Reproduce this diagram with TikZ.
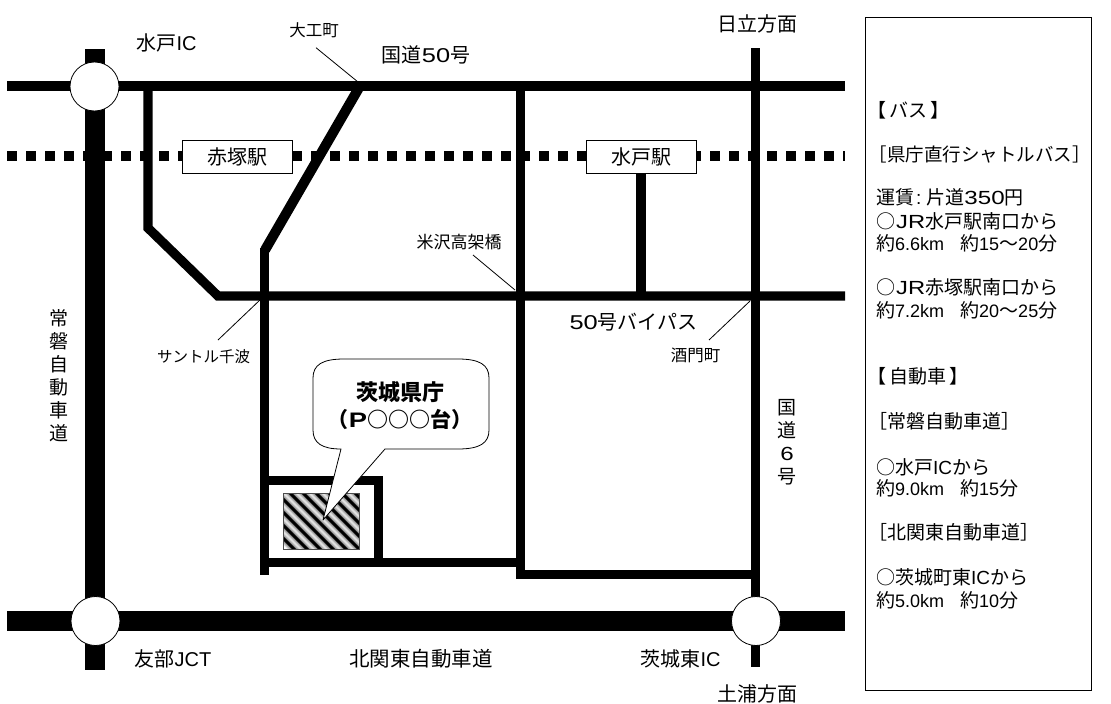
\documentclass[tikz,border=0pt]{standalone}
\usepackage{fontspec}
\setmainfont{Noto Sans CJK JP}
\newfontfamily\latinf{Liberation Sans}
\newcommand{\fs}[1]{\fontsize{#1}{#1}\selectfont}
\newcommand{\wdg}[1]{\scalebox{1.27}[1]{\latinf #1}}
\newcommand{\lt}[1]{{\latinf\fontsize{18}{18}\selectfont #1}}
\tikzset{
  x=1pt,y=-1pt,
  thinroad/.style={line width=9.3pt,line cap=butt,line join=miter},
  wideroad/.style={line width=19.5pt,line cap=butt},
  junction/.style={circle,draw,fill=white,line width=0.8pt,minimum size=49pt,inner sep=0pt},
  station/.style={draw,fill=white,line width=0.8pt,minimum width=110pt,minimum height=33pt,inner sep=0pt,font=\fs{20}},
  lead/.style={line width=0.8pt},
  lab/.style={inner sep=0pt,font=\fs{20}},
  small/.style={inner sep=0pt,font=\fs{16.5}},
  vert/.style={inner sep=0pt,align=center,font=\fontsize{19}{23}\selectfont},
  info/.style={inner sep=0pt,anchor=west,font=\fs{19}},
}
\begin{document}
\begin{tikzpicture}
\useasboundingbox (0,0) rectangle (1111,704);
% rail
\draw[line width=9.5pt,dash pattern=on 9.5pt off 9.5pt] (7.3,156) -- (845,156);
% roads
\draw[wideroad] (95,49) -- (95,670);
\draw[wideroad] (7,621) -- (845,621);
\draw[thinroad] (7,86) -- (845,86);
\draw[thinroad] (755.5,48) -- (755.5,667);
\draw[thinroad] (148,86) -- (148,228) -- (218,296) -- (845,296);
\draw[thinroad,line width=10pt] (360,86) -- (265,250);
\draw[thinroad] (264.5,248) -- (264.5,575);
\draw[thinroad] (520.3,86) -- (520.3,579);
\draw[thinroad] (516,574.5) -- (755.5,574.5);
\draw[thinroad] (264.5,562.5) -- (520.3,562.5);
\draw[thinroad] (264.5,480.5) -- (378.3,480.5) -- (378.3,562.5);
\draw[thinroad] (641,156) -- (641,296);
% junctions
\node[junction] (ic1) at (94.5,86.5) {};
\node[junction] (ic2) at (95.5,621) {};
\node[junction] (ic3) at (756,621) {};
% stations
\node[station] (s1) at (237.5,156.5) {赤塚駅};
\node[station] (s2) at (641,156.5) {水戸駅};
% hatched site
\begin{scope}
\clip (283,493) rectangle (359,549);
\fill[white] (283,493) rectangle (359,549);
\foreach \k in {-65,-52,...,80}{
  \draw[gray!25,line width=9pt] (283+\k,473) -- (283+\k+90,563);
}
\foreach \k in {-65,-52,...,80}{
  \draw[gray!55,line width=7pt] (283+\k,473) -- (283+\k+90,563);
  \draw[gray!80,line width=5pt] (283+\k,473) -- (283+\k+90,563);
  \draw[black,line width=3pt] (283+\k,473) -- (283+\k+90,563);
}
\end{scope}
\draw[black!70,line width=0.8pt] (283,493) rectangle (359,549);
% callout
\coordinate (tip) at (323,520);
\draw[fill=white,line width=0.8pt,line join=round]
  (341,449) -- (tip) -- (385,449) -- (458,449)
  .. controls (480,449) and (489,443) .. (489,430)
  -- (489,378) .. controls (489,365) and (480,359) .. (458,359)
  -- (344,359) .. controls (322,359) and (313,365) .. (313,378)
  -- (313,430) .. controls (313,443) and (322,449) .. (341,449) -- cycle;
\node[inner sep=0pt,font=\fs{22}\bfseries] (t1) at (400.5,392) {茨城県庁};
\node[inner sep=0pt,font=\fs{21}\bfseries] (t2) at (400,419) {（\scalebox{1.3}[1]{\latinf\bfseries P}○○○台）};
% leaders and labels
\node[small] (daiku) at (314,30) {大工町};
\coordinate (daikuA) at (316,47.7);
\coordinate (daikuB) at (358,82);
\draw[lead] (daikuA) -- (daikuB);
\node[small,font=\fs{17}] (yone) at (459,242) {米沢高架橋};
\coordinate (yoneA) at (473,255);
\coordinate (yoneB) at (515,290);
\draw[lead] (yoneA) -- (yoneB);
\node[small,font=\fs{15.5}] (sant) at (203.5,357) {サントル千波};
\coordinate (santA) at (218,340);
\coordinate (santB) at (261,299);
\draw[lead] (santA) -- (santB);
\node[small] (saka) at (695.5,355) {酒門町};
\coordinate (sakaA) at (709,340);
\coordinate (sakaB) at (750,301);
\draw[lead] (sakaA) -- (sakaB);
\node[lab] (l1) at (166.5,43) {水戸{\latinf IC}};
\node[lab] (l2) at (426,55) {国道\wdg{50}号};
\node[lab] (l3) at (757,23.5) {日立方面};
\node[lab] (l4) at (633.5,322) {\wdg{50}号バイパス};
\node[lab] (l5) at (173,659) {友部{\latinf JCT}};
\node[lab,font=\fs{20.5}] (l6) at (421,659) {北関東自動車道};
\node[lab] (l7) at (680.5,659) {茨城東{\latinf IC}};
\node[lab] (l8) at (757,693.5) {土浦方面};
\node[vert] (l9) at (59,375.5) {常\\磐\\自\\動\\車\\道};
\node[vert] (l10) at (787,442.5) {国\\道\\\wdg{6}\\号};
% info panel
\node[draw,line width=0.8pt,minimum width=226pt,minimum height=673pt,inner sep=0pt,anchor=north west] (panel) at (865,17) {};
\node[info] at (867.5,110) {【\hspace{3pt}バス\hspace{3pt}】};
\node[info,font=\fs{18.5}] at (868.5,155) {［県庁直行シャトルバス］};
\node[info] at (876,197) {運賃\hspace{2pt}{\latinf:}\hspace{5pt}片道\wdg{350}円};
\node[info] at (876,221) {○\hspace{1pt}\scalebox{1.25}[1]{\latinf JR}水戸駅南口から};
\node[info] at (876,243) {約\lt{6.6km}\hspace{16pt}約\lt{15}～\lt{20}分};
\node[info] at (876,287) {○\hspace{1pt}\scalebox{1.25}[1]{\latinf JR}赤塚駅南口から};
\node[info] at (876,310) {約\lt{7.2km}\hspace{16pt}約\lt{20}～\lt{25}分};
\node[info] at (867.5,376.5) {【\hspace{3pt}自動車\hspace{3pt}】};
\node[info] at (868.5,421) {［常磐自動車道］};
\node[info] at (876,467) {○水戸{\latinf IC}から};
\node[info] at (876,488) {約\lt{9.0km}\hspace{16pt}約\lt{15}分};
\node[info] at (868.5,532) {［北関東自動車道］};
\node[info] at (876,577) {○茨城町東{\latinf IC}から};
\node[info] at (876,600) {約\lt{5.0km}\hspace{16pt}約\lt{10}分};
\end{tikzpicture}
\end{document}
